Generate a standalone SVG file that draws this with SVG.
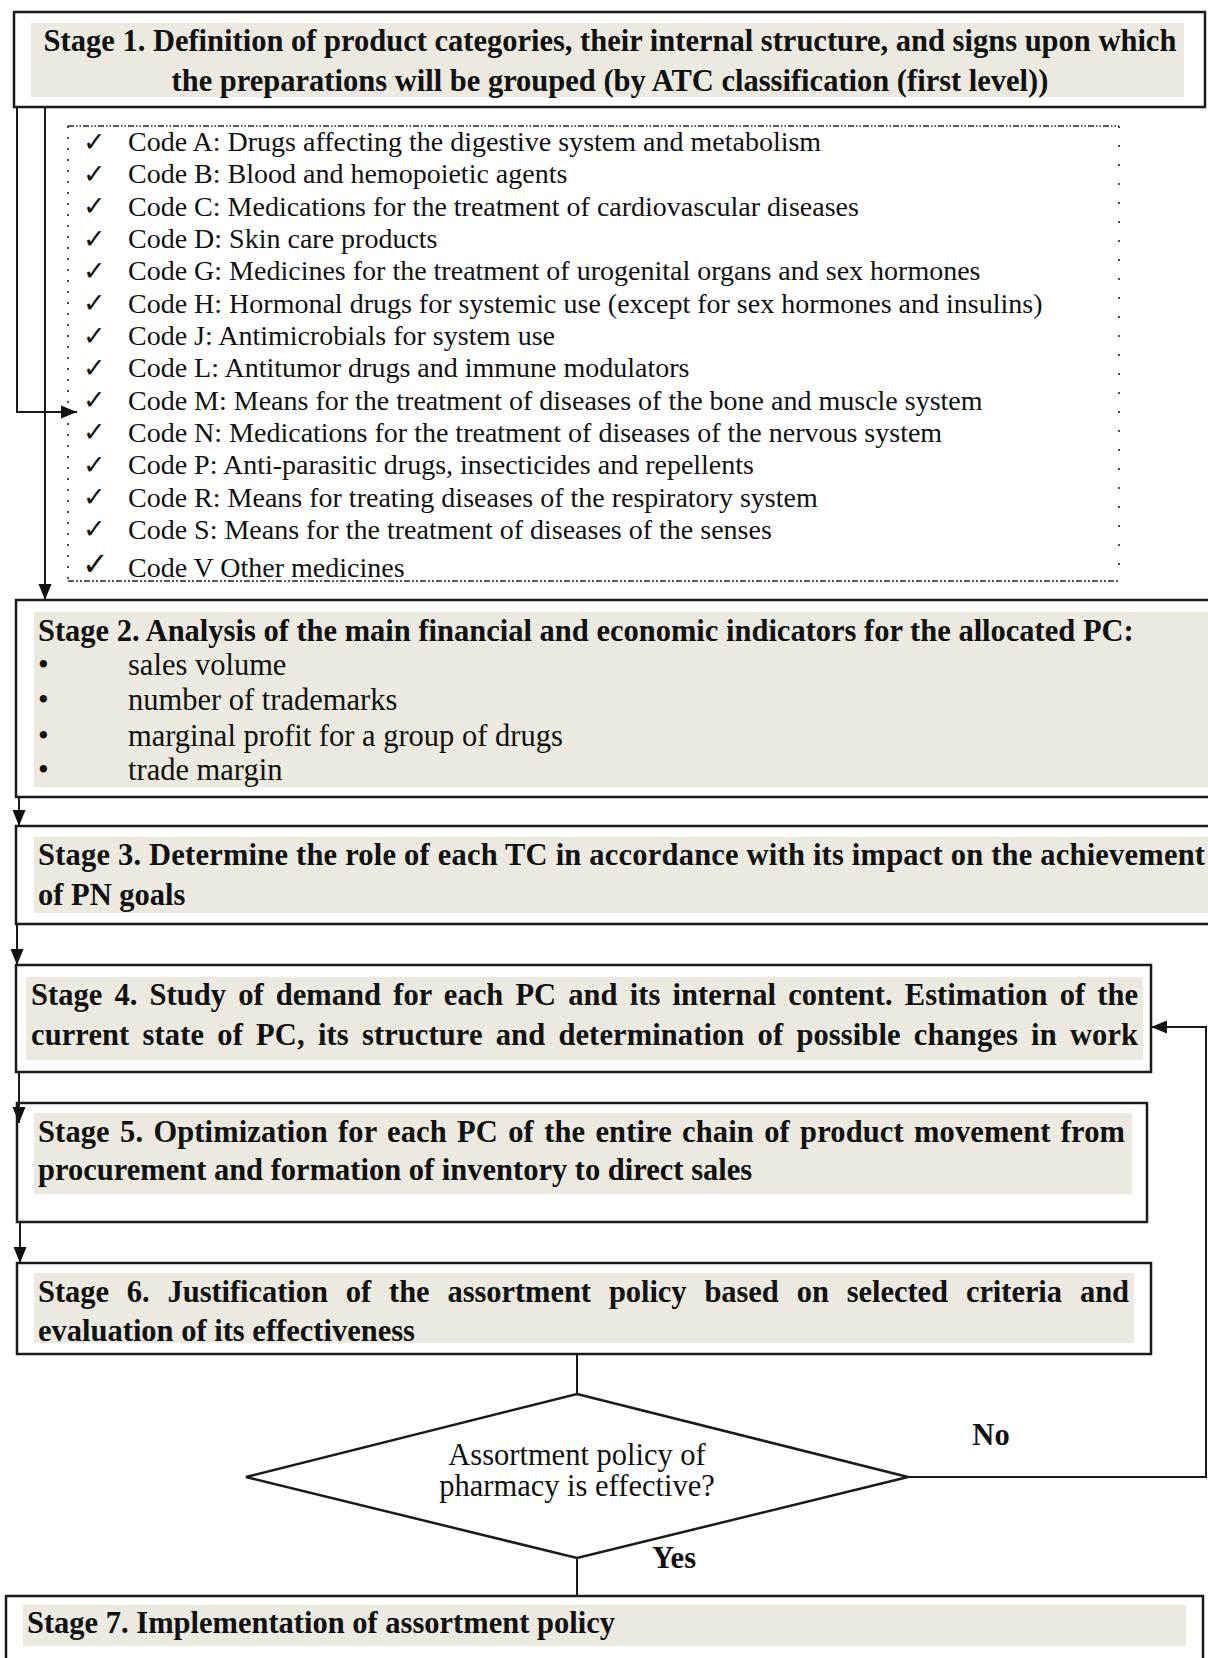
<svg xmlns="http://www.w3.org/2000/svg" width="1208" height="1658" viewBox="0 0 1208 1658">
<style>
.box{fill:#ffffff;stroke:#1a1a1a;stroke-width:2.5}
.band{fill:#ebe9e0}
.t{font-family:"Liberation Serif","Times New Roman",serif;font-weight:bold;font-size:30.5px;fill:#111}
.r{font-family:"Liberation Serif","Times New Roman",serif;font-size:30.5px;fill:#111}
.li{font-family:"Liberation Serif","Times New Roman",serif;font-size:28px;fill:#111}
.ck{font-family:"DejaVu Sans",sans-serif;font-size:27px;fill:#111}
.con{fill:none;stroke:#1a1a1a;stroke-width:2}
.dash{fill:none;stroke:#222;stroke-width:1.6}
</style>
<defs>
<marker id="ah" markerUnits="userSpaceOnUse" markerWidth="18" markerHeight="18" viewBox="0 0 18 18" refX="16" refY="9" orient="auto">
<path d="M0,2.5 L16,9 L0,15.5 Z" fill="#111"/>
</marker>
</defs>

<rect width="1208" height="1658" fill="#ffffff"/>

<g id="stage1">
<rect class="box" x="14" y="12" width="1191" height="95"/>
<rect class="band" x="31" y="23" width="1153" height="74"/>
<text class="t" x="610" y="51" text-anchor="middle">Stage 1. Definition of product categories, their internal structure, and signs upon which</text>
<text class="t" x="610" y="91" text-anchor="middle">the preparations will be grouped (by ATC classification (first level))</text>
</g>

<g id="atc-list">
<path class="dash" d="M68,126 H1119" stroke-dasharray="6 2 1.5 2 1.5 2"/>
<path class="dash" d="M68,581 H1119" stroke-width="2" stroke-dasharray="6 2 2 2 2 2"/>
<path class="dash" d="M68,126 V581" stroke-dasharray="2 9"/>
<path class="dash" d="M1119,126 V581" stroke-dasharray="2 17"/>
<g class="ck">
<text x="83" y="151">✓</text>
<text x="83" y="183">✓</text>
<text x="83" y="215">✓</text>
<text x="83" y="248">✓</text>
<text x="83" y="280">✓</text>
<text x="83" y="312">✓</text>
<text x="83" y="345">✓</text>
<text x="83" y="377">✓</text>
<text x="83" y="409">✓</text>
<text x="83" y="441">✓</text>
<text x="83" y="474">✓</text>
<text x="83" y="506">✓</text>
<text x="83" y="538">✓</text>
<text x="82" y="575" font-size="32px" font-weight="bold">✓</text>
</g>
<g class="li">
<text x="128" y="151">Code A: Drugs affecting the digestive system and metabolism</text>
<text x="128" y="183">Code B: Blood and hemopoietic agents</text>
<text x="128" y="216">Code C: Medications for the treatment of cardiovascular diseases</text>
<text x="128" y="248">Code D: Skin care products</text>
<text x="128" y="280">Code G: Medicines for the treatment of urogenital organs and sex hormones</text>
<text x="128" y="313">Code H: Hormonal drugs for systemic use (except for sex hormones and insulins)</text>
<text x="128" y="345">Code J: Antimicrobials for system use</text>
<text x="128" y="377">Code L: Antitumor drugs and immune modulators</text>
<text x="128" y="410">Code M: Means for the treatment of diseases of the bone and muscle system</text>
<text x="128" y="442">Code N: Medications for the treatment of diseases of the nervous system</text>
<text x="128" y="474">Code P: Anti-parasitic drugs, insecticides and repellents</text>
<text x="128" y="507">Code R: Means for treating diseases of the respiratory system</text>
<text x="128" y="539">Code S: Means for the treatment of diseases of the senses</text>
<text x="128" y="577">Code V Other medicines</text>
</g>
</g>

<g id="stage2">
<rect class="box" x="16" y="600" width="1210" height="197"/>
<rect class="band" x="34" y="612" width="1180" height="175"/>
<text class="t" x="38" y="641">Stage 2. Analysis of the main financial and economic indicators for the allocated PC:</text>
<g class="r">
<text x="38" y="675">•</text><text x="128" y="675">sales volume</text>
<text x="38" y="710">•</text><text x="128" y="710">number of trademarks</text>
<text x="38" y="746">•</text><text x="128" y="746">marginal profit for a group of drugs</text>
<text x="38" y="780">•</text><text x="128" y="780">trade margin</text>
</g>
</g>

<g id="stage3">
<rect class="box" x="16" y="826" width="1210" height="98"/>
<rect class="band" x="34" y="837" width="1180" height="76"/>
<text class="t" x="38" y="865" textLength="1167" lengthAdjust="spacing">Stage 3. Determine the role of each TC in accordance with its impact on the achievement</text>
<text class="t" x="38" y="905">of PN goals</text>
</g>

<g id="stage4">
<rect class="box" x="16" y="965" width="1135" height="107"/>
<rect class="band" x="26" y="977" width="1117" height="83"/>
<text class="t" x="31" y="1005" word-spacing="4.5" textLength="1107" lengthAdjust="spacing">Stage 4. Study of demand for each PC and its internal content. Estimation of the</text>
<text class="t" x="31" y="1045" word-spacing="5.5" textLength="1107" lengthAdjust="spacing">current state of PC, its structure and determination of possible changes in work</text>
</g>

<g id="stage5">
<rect class="box" x="17" y="1103" width="1130" height="119"/>
<rect class="band" x="34" y="1113" width="1098" height="81"/>
<text class="t" x="38" y="1142" word-spacing="2.5" textLength="1087" lengthAdjust="spacing">Stage 5. Optimization for each PC of the entire chain of product movement from</text>
<text class="t" x="38" y="1180">procurement and formation of inventory to direct sales</text>
</g>

<g id="stage6">
<rect class="box" x="17" y="1263" width="1134" height="91"/>
<rect class="band" x="34" y="1273" width="1100" height="70"/>
<text class="t" x="38" y="1302" word-spacing="10.4" textLength="1091" lengthAdjust="spacing">Stage 6. Justification of the assortment policy based on selected criteria and</text>
<text class="t" x="38" y="1341">evaluation of its effectiveness</text>
</g>

<g id="decision">
<polygon points="577,1394 908,1477 577,1558 246,1477" fill="#ffffff" stroke="#1a1a1a" stroke-width="2.5" stroke-linejoin="miter"/>
<text class="r" x="577" y="1465" text-anchor="middle">Assortment policy of</text>
<text class="r" x="577" y="1496" text-anchor="middle">pharmacy is effective?</text>
</g>

<g id="stage7">
<rect class="box" x="6" y="1596" width="1197" height="80"/>
<rect class="band" x="23" y="1605" width="1163" height="41"/>
<text class="t" x="27" y="1633">Stage 7. Implementation of assortment policy</text>
</g>

<g id="connectors">
<path class="con" d="M17,107 V412 H77" marker-end="url(#ah)"/>
<path class="con" d="M45,107 V600" marker-end="url(#ah)"/>
<path class="con" d="M19,797 V826" marker-end="url(#ah)"/>
<path class="con" d="M17,924 V965" marker-end="url(#ah)"/>
<path class="con" d="M19,1072 V1123" marker-end="url(#ah)"/>
<path class="con" d="M20,1222 V1263" marker-end="url(#ah)"/>
<path class="con" d="M577,1354 V1394"/>
<path class="con" d="M577,1558 V1596"/>
<path class="con" d="M908,1477 H1206 V1027 H1151" stroke-width="2.2" marker-end="url(#ah)"/>
<text class="t" x="991" y="1445" text-anchor="middle">No</text>
<text class="t" x="674" y="1568" text-anchor="middle">Yes</text>
</g>
</svg>
